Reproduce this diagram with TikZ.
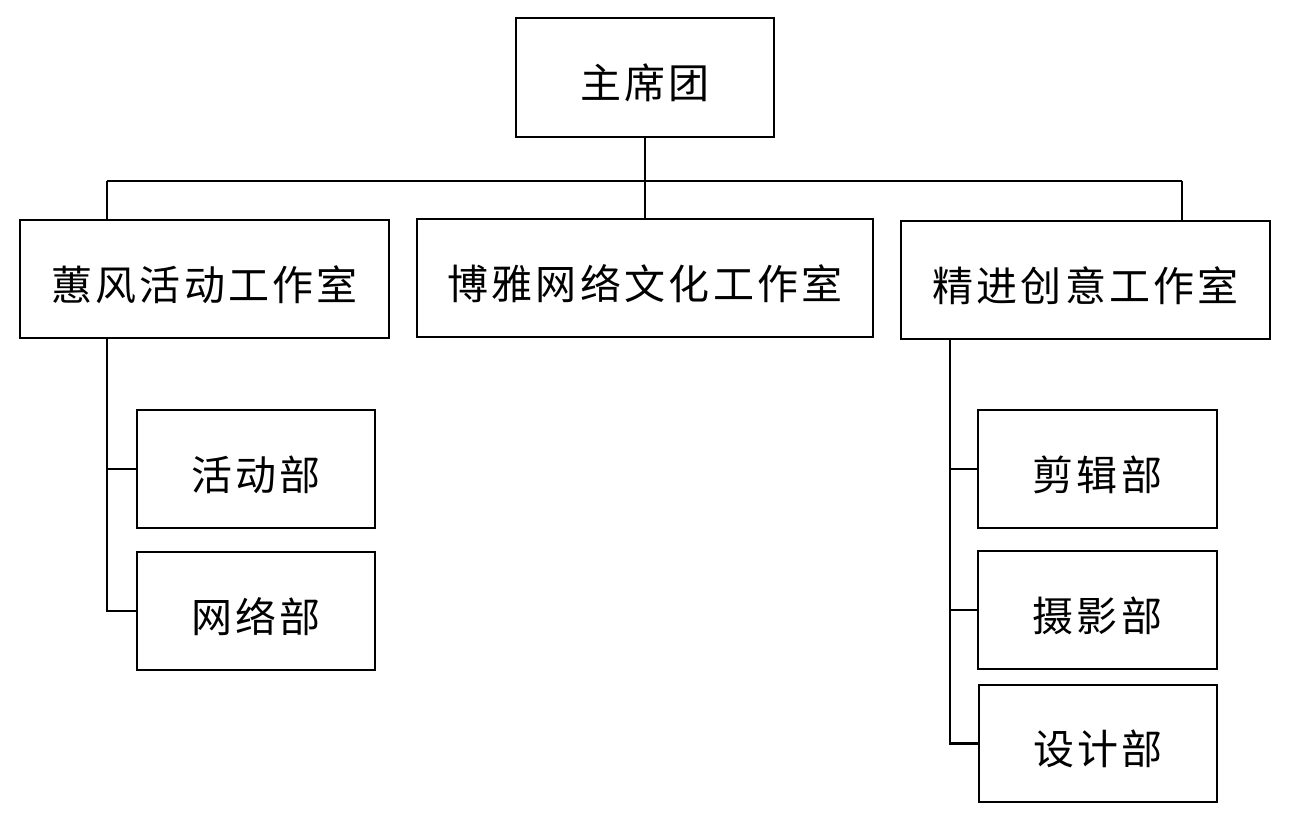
\documentclass[tikz,border=0pt]{standalone}
\usepackage{fontspec}
\newfontfamily\cjk[LetterSpace=8]{Noto Sans CJK SC}
\begin{document}
\begin{tikzpicture}[x=0.5pt,y=-0.5pt,
  box/.style={draw,line width=1.25pt,inner sep=0pt,minimum height=59pt,text height=21pt,text depth=0pt,font=\cjk\fontsize{20.5}{24}\selectfont},
  conn/.style={line width=1.25pt}]
\useasboundingbox (0,0) rectangle (1289,825);
\node[box,minimum width=129pt,minimum height=59.5pt] (zx) at (645,77.5) {主席团};
\node[box,minimum width=184.5pt] (hf) at (204.5,279) {蕙风活动工作室};
\node[box,minimum width=228pt] (by) at (645,278) {博雅网络文化工作室};
\node[box,minimum width=184.5pt] (jj) at (1085.5,280) {精进创意工作室};
\node[box,minimum width=119pt] (hd) at (256,469) {活动部};
\node[box,minimum width=119pt] (wl) at (256,611) {网络部};
\node[box,minimum width=119.5pt] (jx) at (1097.5,469) {剪辑部};
\node[box,minimum width=119.5pt] (sy) at (1097.5,610) {摄影部};
\node[box,minimum width=119pt,minimum height=58.5pt] (sj) at (1098,743.5) {设计部};
\coordinate (bus) at (645,181);
\coordinate (lx) at (107,181);
\coordinate (rx) at (1182,181);
\coordinate (rv) at (950,400);
\draw[conn] (zx.south) -- (bus);
\draw[conn] (lx) -- (rx);
\draw[conn] (lx) -- (hf.north -| lx);
\draw[conn] (bus) -- (by.north);
\draw[conn] (rx) -- (jj.north -| rx);
\draw[conn] (hf.south -| lx) |- (hd.west);
\draw[conn] (hf.south -| lx) |- (wl.west);
\draw[conn] (jj.south -| rv) |- (jx.west);
\draw[conn] (jj.south -| rv) |- (sy.west);
\draw[conn] (jj.south -| rv) |- (sj.west);
\end{tikzpicture}
\end{document}
